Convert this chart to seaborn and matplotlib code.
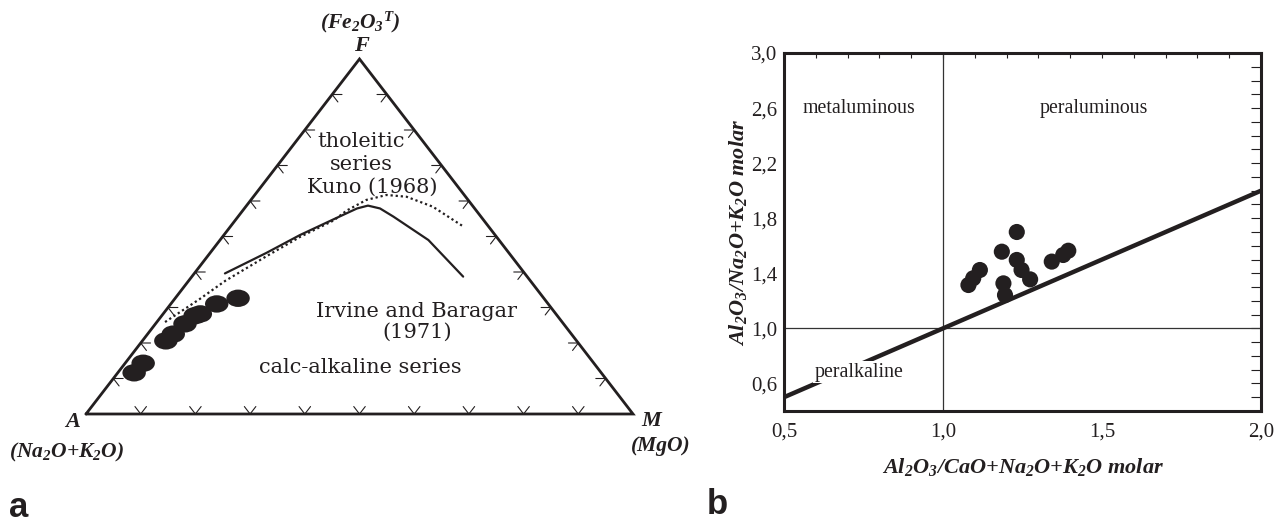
import numpy as np
import pandas as pd
import matplotlib
matplotlib.use("Agg")
import matplotlib.pyplot as plt
from matplotlib.path import Path
from matplotlib.transforms import Affine2D
from matplotlib.ticker import MultipleLocator, FixedLocator, FixedFormatter
import seaborn as sns

# ---------------- data ----------------
# AFM samples (A = Na2O+K2O, F = Fe2O3T, M = MgO), in % of A+F+M
afm_A = [85.4, 82.4, 75.1, 72.8, 69.2, 66.2, 65.0, 60.6, 55.9]
afm_F = [11.6, 14.3, 20.6, 22.5, 25.4, 27.7, 28.2, 31.0, 32.6]
afm_M = [3.0, 3.3, 4.3, 4.7, 5.4, 6.1, 6.8, 8.4, 11.5]

# Irvine and Baragar (1971) tholeiitic / calc-alkaline divide
ib_A = [54.8, 44.3, 35.7, 27.4, 21.5, 19.1, 17.3, 16.0, 12.9, 11.7]
ib_F = [39.6, 45.4, 50.4, 54.8, 57.9, 58.7, 57.9, 55.6, 49.0, 38.7]
ib_M = [5.6, 10.3, 13.9, 17.8, 20.6, 22.2, 24.8, 28.4, 38.1, 49.6]

# Kuno (1968) divide
kuno_A = [72.6, 63.0, 55.8, 44.7, 35.9, 27.5, 23.7, 18.6, 14.2, 10.8, 7.4, 4.6]
kuno_F = [25.9, 32.4, 37.5, 44.5, 49.9, 54.5, 57.3, 60.3, 61.7, 61.2, 58.4, 52.8]
kuno_M = [1.5, 4.6, 6.7, 10.8, 14.2, 18.0, 19.0, 21.1, 24.1, 28.0, 34.2, 42.6]

# Shand index: A/CNK (x) and A/NK (y), molar
acnk = [1.232, 1.185, 1.232, 1.247, 1.274, 1.190, 1.195, 1.116, 1.095, 1.080, 1.342, 1.378, 1.394]
ank = [1.700, 1.557, 1.497, 1.424, 1.356, 1.327, 1.242, 1.424, 1.364, 1.315, 1.485, 1.533, 1.564]

# A/NK = A/CNK boundary and the unit reference lines
boundary_acnk = [0.5, 2.0]
boundary_ank = [0.5, 2.0]
unit_value = 1.0

xtick_values = [0.5, 1.0, 1.5, 2.0]
xtick_labels = ["0,5", "1,0", "1,5", "2,0"]
ytick_values = [0.6, 1.0, 1.4, 1.8, 2.2, 2.6, 3.0]
ytick_labels = ["0,6", "1,0", "1,4", "1,8", "2,2", "2,6", "3,0"]

# ---------------- style ----------------
sns.set_style("white")
plt.rcParams.update({
    "font.family": ["Liberation Serif", "DejaVu Serif"],
    "mathtext.fontset": "custom",
    "mathtext.rm": "Liberation Serif:bold:italic",
    "mathtext.it": "Liberation Serif:bold:italic",
    "mathtext.bf": "Liberation Serif:bold:italic",
})
INK = "#231f20"

W, H = 1283, 522
fig = plt.figure(figsize=(W / 100, H / 100), dpi=100)


def fx(px):
    return px / W


def fy(py):
    return 1 - py / H


def ternary_frame(A, F, M):
    df = pd.DataFrame({"A": A, "F": F, "M": M}, dtype=float)
    s = df.sum(axis=1)
    f = df["F"] / s
    m = df["M"] / s
    return pd.DataFrame({"x": m + f / 2, "y": f})


# ---------------- panel a: AFM ternary ----------------
axA = fig.add_axes([fx(86), fy(414), 547 / W, 355 / H])

frame = ternary_frame([100, 0, 0, 100], [0, 0, 100, 0], [0, 100, 0, 0])
axA.plot(frame["x"], frame["y"], color=INK, lw=2.0, clip_on=False,
         solid_joinstyle="miter")

# gridline ticks every 10 %
d, h = 0.021, 0.018
for k in range(1, 10):
    t = k / 10
    # base (A-M)
    bx, by = t, 0.0
    axA.plot([bx - 0.5 * d, bx, bx + 0.5 * d], [d, by, d], color=INK, lw=0.8,
             clip_on=False)
    # left edge (A-F)
    lx, ly = t / 2, t
    axA.plot([lx + h, lx, lx + 0.5 * d], [ly, ly, ly - d], color=INK, lw=0.8,
             clip_on=False)
    # right edge (F-M)
    rx, ry = 1 - t / 2, t
    axA.plot([rx - h, rx, rx - 0.5 * d], [ry, ry, ry - d], color=INK, lw=0.8,
             clip_on=False)

ib = ternary_frame(ib_A, ib_F, ib_M)
sns.lineplot(data=ib, x="x", y="y", sort=False, ax=axA, color=INK, lw=1.6,
             clip_on=False)
kuno = ternary_frame(kuno_A, kuno_F, kuno_M)
sns.lineplot(data=kuno, x="x", y="y", sort=False, ax=axA, color=INK, lw=1.6,
             linestyle=(0, (1, 1.3)), clip_on=False)

ellipse = Affine2D().scale(1.35, 1.0).transform_path(Path.unit_circle())
pts = ternary_frame(afm_A, afm_F, afm_M)
sns.scatterplot(data=pts, x="x", y="y", ax=axA, marker=ellipse, s=285,
                color=INK, edgecolor="none", linewidth=0, zorder=5,
                clip_on=False)
axA.set_xlim(0, 1)
axA.set_ylim(0, 1)
axA.set_axis_off()

region_font = dict(family="DejaVu Serif", fontsize=15, color=INK,
                   ha="center", va="center", transform=axA.transAxes)
axA.text(0.5027, 0.7690, "tholeitic", **region_font)
axA.text(0.5027, 0.7042, "series", **region_font)
axA.text(0.5229, 0.6394, "Kuno (1968)", **region_font)
axA.text(0.6051, 0.2901, "Irvine and Baragar", **region_font)
axA.text(0.6051, 0.2310, "(1971)", **region_font)
axA.text(0.5009, 0.1296, "calc-alkaline series", **region_font)

vertex_font = dict(family="Liberation Serif", style="italic", weight="bold",
                   color=INK, ha="center", va="center")
fig.text(fx(360), fy(22), "(Fe$_2$O$_3$$^T$)", fontsize=15.5, **vertex_font)
fig.text(fx(361), fy(46), "F", fontsize=16, **vertex_font)
fig.text(fx(73), fy(422), "A", fontsize=16, **vertex_font)
fig.text(fx(67), fy(452), "(Na$_2$O+K$_2$O)", fontsize=15.5, **vertex_font)
fig.text(fx(651), fy(421), "M", fontsize=16, **vertex_font)
fig.text(fx(661), fy(446), "(MgO)", fontsize=15.5, **vertex_font)

# ---------------- panel b: Shand index ----------------
axB = fig.add_axes([fx(784), fy(411), 477 / W, 358 / H])
sns.lineplot(x=boundary_acnk, y=boundary_ank, ax=axB, color=INK, lw=3.2,
             zorder=2)
axB.axvline(unit_value, color="#333333", lw=0.9, zorder=1)
axB.axhline(unit_value, color="#333333", lw=0.9, zorder=1)
sns.scatterplot(x=acnk, y=ank, ax=axB, s=135, color=INK, edgecolor="none",
                linewidth=0, zorder=4)

axB.set_xlim(0.5, 2.0)
axB.set_ylim(0.4, 3.0)
axB.xaxis.set_major_locator(FixedLocator(xtick_values))
axB.xaxis.set_major_formatter(FixedFormatter(xtick_labels))
axB.xaxis.set_minor_locator(MultipleLocator(0.1))
axB.yaxis.set_major_locator(FixedLocator(ytick_values))
axB.yaxis.set_major_formatter(FixedFormatter(ytick_labels))
axB.yaxis.set_minor_locator(MultipleLocator(0.1))
axB.tick_params(axis="both", which="both", direction="in", top=True,
                right=True, width=0.8, color=INK, labelcolor=INK,
                labelsize=15)
axB.tick_params(axis="x", which="both", length=3.8, pad=8)
axB.tick_params(axis="y", which="both", length=7.2, pad=5)
for sp in axB.spines.values():
    sp.set_linewidth(2.2)
    sp.set_color(INK)

label_font = dict(family="Liberation Serif", style="italic", weight="bold",
                  fontsize=16, color=INK)
axB.set_xlabel("Al$_2$O$_3$/CaO+Na$_2$O+K$_2$O molar", **label_font)
axB.set_ylabel("Al$_2$O$_3$/Na$_2$O+K$_2$O molar", **label_font)
axB.xaxis.set_label_coords(0.5, -0.125)
axB.yaxis.set_label_coords(-0.073, 0.5)

field_font = dict(family="Liberation Serif", fontsize=14.3, color=INK,
                  va="center")
axB.text(0.736, 2.6, "metaluminous", ha="center", **field_font)
axB.text(1.475, 2.6, "peraluminous", ha="center", **field_font)
axB.text(0.597, 0.683, "peralkaline", ha="left", zorder=3,
         bbox=dict(facecolor="white", edgecolor="none", pad=1.0), **field_font)

# panel letters
fig.text(fx(19), fy(517), "a", family="Liberation Sans", weight="bold",
         fontsize=25, color=INK, ha="center", va="baseline")
fig.text(fx(717), fy(514), "b", family="Liberation Sans", weight="bold",
         fontsize=25, color=INK, ha="center", va="baseline")

fig.savefig("out.png", dpi=100, facecolor="white")
